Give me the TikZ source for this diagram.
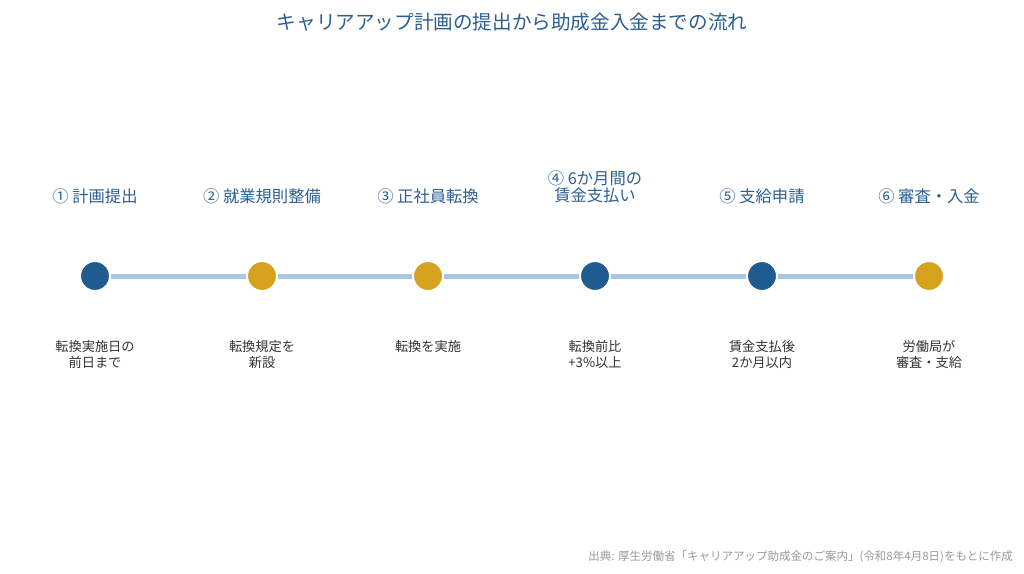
\documentclass[tikz,border=0pt]{standalone}
\usepackage{fontspec}
\setmainfont{Noto Sans CJK JP}
\definecolor{dblue}{HTML}{1F5B8E}
\definecolor{gold}{HTML}{D6A21E}
\definecolor{lineblue}{HTML}{A9C6E2}
\definecolor{ttl}{HTML}{2B5F93}
\definecolor{sub}{HTML}{333333}
\definecolor{foot}{HTML}{9A9A9A}
\begin{document}
\begin{tikzpicture}[x=1pt,y=-1pt,
  dotb/.style={circle,fill=dblue,draw=white,line width=2pt,minimum size=30pt,inner sep=0pt},
  dotg/.style={circle,fill=gold,draw=white,line width=2pt,minimum size=30pt,inner sep=0pt},
  conn/.style={lineblue,line width=5pt},
  toplab/.style={text=ttl,font=\fontsize{16.3}{16.5}\selectfont,align=center,inner sep=0pt},
  botlab/.style={text=sub,font=\fontsize{13.2}{16}\selectfont,align=center,inner sep=0pt}]
\useasboundingbox[fill=white] (0,0) rectangle (1024,573);
\node[text=ttl,font=\fontsize{19.6}{20}\selectfont,inner sep=0pt] (title) at (512,22) {キャリアアップ計画の提出から助成金入金までの流れ};
\coordinate (p1) at (95,276);
\coordinate (p2) at (262,276);
\coordinate (p3) at (428,276);
\coordinate (p4) at (595,276);
\coordinate (p5) at (762,276);
\coordinate (p6) at (929,276);
\draw[conn] (p1) -- (p2) -- (p3) -- (p4) -- (p5) -- (p6);
\node[dotb] (d1) at (p1) {};
\node[dotg] (d2) at (p2) {};
\node[dotg] (d3) at (p3) {};
\node[dotb] (d4) at (p4) {};
\node[dotb] (d5) at (p5) {};
\node[dotg] (d6) at (p6) {};
\node[toplab] (t1) at (95,196) {① 計画提出};
\node[toplab] (t2) at (262,196) {② 就業規則整備};
\node[toplab] (t3) at (428,196) {③ 正社員転換};
\node[toplab] (t4) at (595,187) {④ 6か月間の\\賃金支払い};
\node[toplab] (t5) at (762,196) {⑤ 支給申請};
\node[toplab] (t6) at (929,196) {⑥ 審査・入金};
\node[botlab] (b1) at (95,354) {転換実施日の\\前日まで};
\node[botlab] (b2) at (262,354) {転換規定を\\新設};
\node[botlab] (b3) at (428,346) {転換を実施};
\node[botlab] (b4) at (595,354) {転換前比\\+3\%以上};
\node[botlab] (b5) at (762,354) {賃金支払後\\2か月以内};
\node[botlab] (b6) at (929,354) {労働局が\\審査・支給};
\node[text=foot,font=\fontsize{11.5}{12}\selectfont,anchor=east,inner sep=0pt] (src) at (1013,557) {出典: 厚生労働省「キャリアアップ助成金のご案内」(令和8年4月8日)をもとに作成};
\end{tikzpicture}
\end{document}
